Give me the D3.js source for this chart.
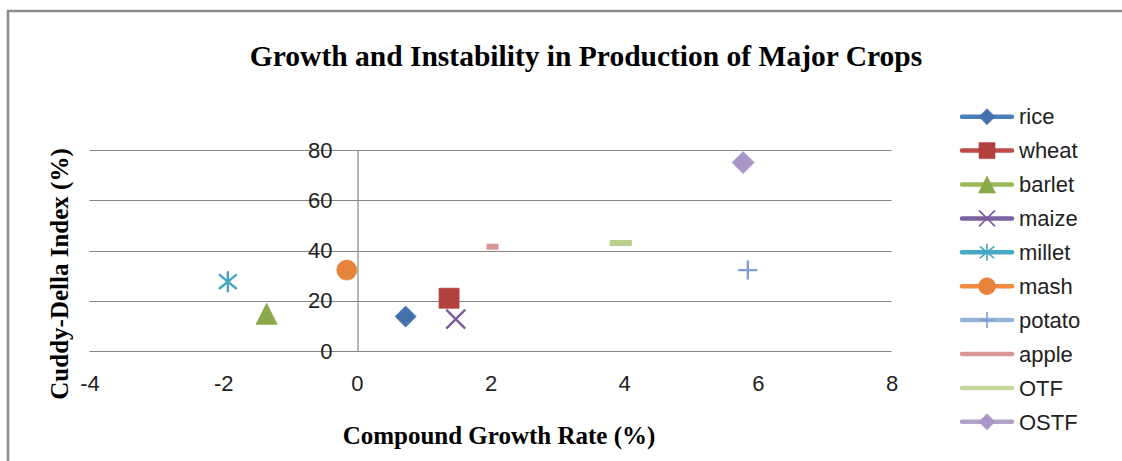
<!DOCTYPE html>
<html>
<head>
<meta charset="utf-8">
<script src="https://cdn.jsdelivr.net/npm/d3@7"></script>
<style>
  html, body { margin: 0; padding: 0; background: #fff; }
  svg { display: block; }
</style>
</head>
<body>
<svg id="chart" width="1122" height="461"></svg>
<script>
// ---- data ----
const crops = ["rice", "wheat", "barlet", "maize", "millet", "mash", "potato", "apple", "OTF", "OSTF"];
const growthRate = [0.73, 1.38, -1.35, 1.48, -1.93, -0.15, 5.85, 2.03, 3.95, 5.78];
const cuddyDella = [13.7, 21.0, 14.8, 12.7, 27.6, 32.2, 32.2, 41.5, 43.0, 75.0];
const xTicks = [-4, -2, 0, 2, 4, 6, 8];
const yTicks = [0, 20, 40, 60, 80];
const titleText = "Growth and Instability in Production of Major Crops";
const xTitle = "Compound Growth Rate (%)";
const yTitle = "Cuddy-Della Index (%)";

// ---- styles ----
const colors = {
  rice: "#4471AE", wheat: "#B2413E", barlet: "#89A94A", maize: "#7A5C9C",
  millet: "#46A6BF", mash: "#E5843A", potato: "#7F9FD3", apple: "#D99694",
  OTF: "#B7D08E", OSTF: "#A897C6"
};
const lineColors = {
  rice: "#4A7EBB", wheat: "#BE4B48", barlet: "#98B954", maize: "#7D60A0",
  millet: "#46AAC5", mash: "#F38A3D", potato: "#95B3D7", apple: "#D99694",
  OTF: "#C3D69B", OSTF: "#B3A2C7"
};
const shapes = {
  rice: "diamond", wheat: "square", barlet: "triangle", maize: "x",
  millet: "star", mash: "circle", potato: "plus", apple: "dash",
  OTF: "dash", OSTF: "diamond"
};
const plotSize = { rice: 21, wheat: 20, barlet: 21, maize: 19, millet: 21, mash: 20, potato: 19, apple: 12, OTF: 22, OSTF: 22 };
const legendSize = { rice: 16, wheat: 16, barlet: 17, maize: 16, millet: 17, mash: 17, potato: 16, apple: 0, OTF: 0, OSTF: 16 };

function markerPath(shape, s) {
  const h = s / 2;
  const p = d3.path();
  switch (shape) {
    case "diamond": p.moveTo(0, -h); p.lineTo(h, 0); p.lineTo(0, h); p.lineTo(-h, 0); p.closePath(); break;
    case "square": p.rect(-h, -h, s, s); break;
    case "triangle": p.moveTo(0, -h); p.lineTo(h, h); p.lineTo(-h, h); p.closePath(); break;
    case "circle": p.arc(0, 0, h, 0, 2 * Math.PI); break;
    case "x": p.moveTo(-h, -h); p.lineTo(h, h); p.moveTo(-h, h); p.lineTo(h, -h); break;
    case "star": p.moveTo(-h * 0.85, -h * 0.7); p.lineTo(h * 0.85, h * 0.7); p.moveTo(-h * 0.85, h * 0.7); p.lineTo(h * 0.85, -h * 0.7); p.moveTo(0, -h); p.lineTo(0, h); break;
    case "plus": p.moveTo(-h, 0); p.lineTo(h, 0); p.moveTo(0, -h); p.lineTo(0, h); break;
    case "dash": p.rect(-h, -3, s, 6); break;
  }
  return p.toString();
}
const stroked = new Set(["x", "star", "plus"]);

// ---- layout ----
const svg = d3.select("#chart");
const x = d3.scaleLinear().domain([-4, 8]).range([89.5, 891.5]);
const y = d3.scaleLinear().domain([0, 80]).range([351, 150]);

// chart border
svg.append("rect").attr("x", 8).attr("y", 11).attr("width", 1300).attr("height", 700)
  .attr("fill", "none").attr("stroke", "#8c8c8c").attr("stroke-width", 2.5);

// title
svg.append("text").attr("x", 586).attr("y", 66).attr("text-anchor", "middle")
  .attr("font-family", "'Liberation Serif', 'Times New Roman', serif").attr("font-weight", "bold")
  .attr("font-size", 29.5).attr("fill", "#000").text(titleText);

// gridlines (horizontal)
const grid = svg.append("g");
grid.selectAll("line").data(yTicks).join("line")
  .attr("x1", x.range()[0]).attr("x2", x.range()[1])
  .attr("y1", d => Math.round(y(d)) + 0.5).attr("y2", d => Math.round(y(d)) + 0.5)
  .attr("stroke", "#868686").attr("stroke-width", 1.2);

// vertical axis at x=0
const yAxis = d3.axisLeft(y).tickValues(yTicks).tickSize(0).tickPadding(25).tickFormat(d => String(d));
const gy = svg.append("g").attr("transform", `translate(${Math.round(x(0)) + 0.5},0)`).call(yAxis);
gy.select(".domain").attr("stroke", "#868686").attr("stroke-width", 1.2);
gy.selectAll("text").attr("font-family", "'Liberation Sans', Arial, sans-serif").attr("font-size", 22).attr("fill", "#222");

// horizontal axis labels at bottom
const xAxis = d3.axisBottom(x).tickValues(xTicks).tickSize(0).tickPadding(24).tickFormat(d => String(d));
const gx = svg.append("g").attr("transform", `translate(0,${y(0)})`).call(xAxis);
gx.select(".domain").remove();
gx.selectAll("text").attr("font-family", "'Liberation Sans', Arial, sans-serif").attr("font-size", 22).attr("fill", "#222");

// axis titles
svg.append("text").attr("x", 499).attr("y", 444).attr("text-anchor", "middle")
  .attr("font-family", "'Liberation Serif', 'Times New Roman', serif").attr("font-weight", "bold")
  .attr("font-size", 25).attr("fill", "#000").text(xTitle);
svg.append("text").attr("transform", "translate(68,274) rotate(-90)").attr("text-anchor", "middle")
  .attr("font-family", "'Liberation Serif', 'Times New Roman', serif").attr("font-weight", "bold")
  .attr("font-size", 25).attr("fill", "#000").text(yTitle);

// points
const pts = crops.map((c, i) => ({ name: c, gx: growthRate[i], cd: cuddyDella[i] }));
svg.append("g").selectAll("path").data(pts).join("path")
  .attr("transform", d => `translate(${x(d.gx)},${y(d.cd)})`)
  .attr("d", d => markerPath(shapes[d.name], plotSize[d.name]))
  .attr("fill", d => stroked.has(shapes[d.name]) ? "none" : colors[d.name])
  .attr("stroke", d => colors[d.name])
  .attr("stroke-width", d => stroked.has(shapes[d.name]) ? 2.4 : (shapes[d.name] === "dash" ? 0 : 0.8))
  .attr("stroke-linejoin", "round");

// legend
const legend = svg.append("g");
const rows = legend.selectAll("g").data(crops).join("g")
  .attr("transform", (d, i) => `translate(0,${116.7 + i * 33.9})`);
rows.append("line").attr("x1", 962).attr("x2", 1012).attr("y1", 0).attr("y2", 0)
  .attr("stroke", d => lineColors[d]).attr("stroke-width", 4.5).attr("stroke-linecap", "round");
rows.filter(d => legendSize[d] > 0).append("path")
  .attr("transform", "translate(987,0)")
  .attr("d", d => markerPath(shapes[d], legendSize[d]))
  .attr("fill", d => stroked.has(shapes[d]) ? "none" : colors[d])
  .attr("stroke", d => colors[d])
  .attr("stroke-width", d => stroked.has(shapes[d]) ? 1.6 : 0.6);
rows.append("text").attr("x", 1019).attr("y", 0).attr("dy", "0.35em")
  .attr("font-family", "'Liberation Sans', Arial, sans-serif").attr("font-size", 22).attr("fill", "#222")
  .text(d => d);
</script>
</body>
</html>
